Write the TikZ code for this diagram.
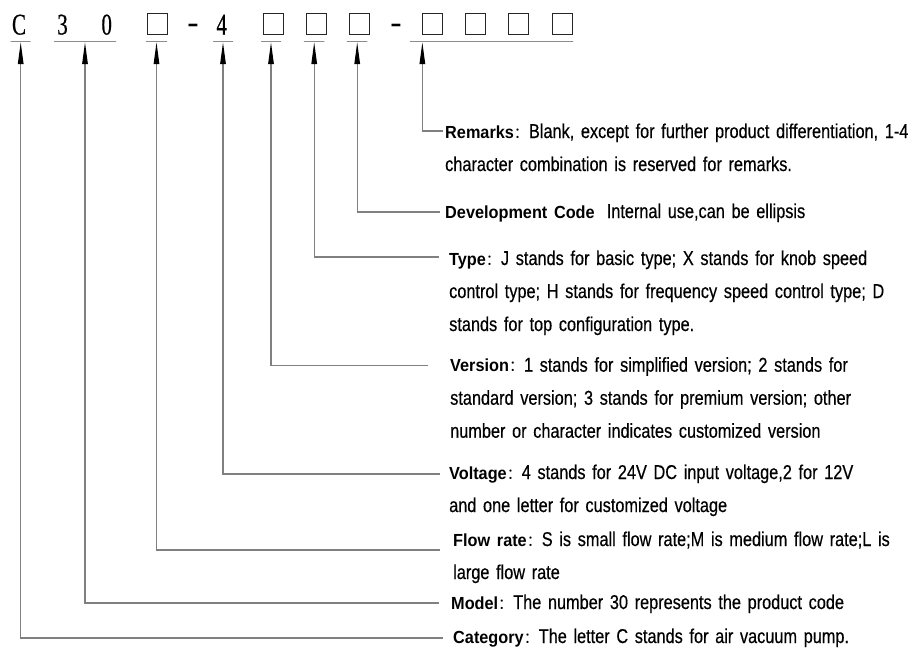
\documentclass[tikz,border=0pt]{standalone}
\usetikzlibrary{arrows.meta}
\usepackage{xcolor}
\usepackage{fontspec}
\newfontfamily\descfam[FakeStretch=0.815,WordSpace=0.8,FakeBold=0.4]{Liberation Sans}
\newfontfamily\lblfam[FakeStretch=0.93]{Liberation Sans}
\newfontfamily\cjkfam{Noto Sans CJK SC}
\newfontfamily\codefam[FakeStretch=0.7,FakeBold=0.5]{Liberation Serif}
\newfontfamily\hyphfam{Liberation Serif}
\newcommand\lbl[1]{{\lblfam\bfseries\fontsize{17.5}{33}\selectfont #1}}
\newcommand\cln{{\cjkfam\fontsize{15}{33}\selectfont ：}}

\begin{document}
\begin{tikzpicture}[x=1pt, y=-1pt,
        code/.style={anchor=base, inner sep=0pt, font=\codefam\fontsize{30}{30}\selectfont},
        hyph/.style={anchor=base, inner sep=0pt, font=\hyphfam\fontsize{34}{34}\selectfont},
        slot/.style={draw=black!85, line width=1.3pt, minimum width=20pt, minimum height=21pt, inner sep=0pt},
        uline/.style={draw=black!45, line width=1.3pt, minimum height=0pt, inner sep=0pt},
        desc/.style={anchor=base west, inner sep=0pt, text width=560pt, align=left, font=\descfam\fontsize{20}{33}\selectfont},
        link/.style={draw=black!50, line width=1.2pt, -{Triangle[length=22pt,width=5.5pt,color=black]}}]
        \useasboundingbox (0,0) rectangle (917,649);

        \node[code] (cC) at (19,34.5) {C};
        \node[code] (c3) at (62.5,34.5) {3};
        \node[code] (c0) at (106.7,34.5) {0};
        \node[slot] (b1) at (157.5,24) {};
        \node[hyph] (hy1) at (193,33) {-};
        \node[code] (c4) at (221.7,34.5) {4};
        \node[slot] (b2) at (273.6,24) {};
        \node[slot] (b3) at (316.7,24) {};
        \node[slot] (b4) at (359.6,24) {};
        \node[hyph] (hy2) at (396,33) {-};
        \node[slot] (b5) at (432.5,24) {};
        \node[slot] (b6) at (475.5,24) {};
        \node[slot] (b7) at (518.5,24) {};
        \node[slot] (b8) at (562.5,24) {};

        \node[uline, minimum width=20pt] (catU) at (20.7,41.5) {};
        \node[uline, minimum width=62pt] (mdlU) at (85,41.5) {};
        \node[uline, minimum width=21pt] (floU) at (156.5,41.5) {};
        \node[uline, minimum width=20pt] (volU) at (223,41.5) {};
        \node[uline, minimum width=20pt] (verU) at (271,41.5) {};
        \node[uline, minimum width=20.5pt] (typU) at (314.2,41.5) {};
        \node[uline, minimum width=20.5pt] (devU) at (357.2,41.5) {};
        \node[uline, minimum width=163pt] (remU) at (491.5,41.5) {};

        \node[desc] (remD) at (445,138) {\lbl{Remarks}\cln Blank, except for further product differentiation, 1-4\\character combination is reserved for remarks.};
        \node[desc] (devD) at (445,218) {\lbl{Development Code}\hspace*{12pt}Internal use,can be ellipsis};
        \node[desc] (typD) at (449,265) {\lbl{Type}\cln J stands for basic type; X stands for knob speed\\control type; H stands for frequency speed control type; D\\stands for top configuration type.};
        \node[desc] (verD) at (450,371.7) {\lbl{Version}\cln 1 stands for simplified version; 2 stands for\\standard version; 3 stands for premium version; other\\number or character indicates customized version};
        \node[desc] (volD) at (449,479) {\lbl{Voltage}\cln 4 stands for 24V DC input voltage,2 for 12V\\and one letter for customized voltage};
        \node[desc] (floD) at (453,546) {\lbl{Flow rate}\cln S is small flow rate;M is medium flow rate;L is\\large flow rate};
        \node[desc] (mdlD) at (451,609) {\lbl{Model}\cln The number 30 represents the product code};
        \node[desc] (catD) at (453,643) {\lbl{Category}\cln The letter C stands for air vacuum pump.};

        \draw[link] ([xshift=-2.5pt,yshift=7pt]remD.base west) -| ([xshift=13pt]remU.south west);
        \draw[link] ([xshift=-5pt,yshift=6pt]devD.base west) -| (devU.south);
        \draw[link] ([xshift=-10pt,yshift=8pt]typD.base west) -| (typU.south);
        \draw[link] ([xshift=-22pt,yshift=6pt]verD.base west) -| (verU.south);
        \draw[link] ([xshift=-9pt,yshift=5pt]volD.base west) -| (volU.south);
        \draw[link] ([xshift=-13pt,yshift=-4pt]floD.base west) -| (floU.south);
        \draw[link] ([xshift=-12pt,yshift=6pt]mdlD.base west) -| (mdlU.south);
        \draw[link] ([xshift=-10pt,yshift=5pt]catD.base west) -| (catU.south);

\end{tikzpicture}
\end{document}
